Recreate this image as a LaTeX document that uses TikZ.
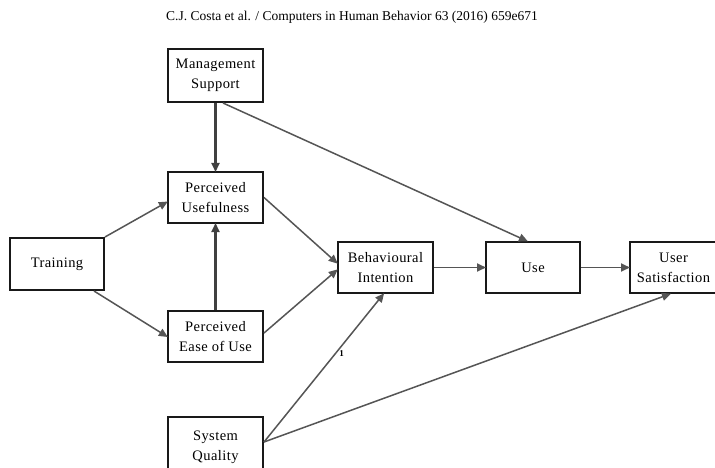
\documentclass[tikz,border=0pt]{standalone}
\usepackage{fontspec}
\setmainfont{Liberation Serif}
\newfontfamily\boxfont[LetterSpace=3]{Liberation Serif}
\usetikzlibrary{arrows.meta}
\definecolor{edgegray}{HTML}{555555}
\tikzset{
  construct/.style={draw=black!90, line width=2pt, fill=white,
    minimum width=95pt, minimum height=52pt, inner sep=2pt,
    align=center, font=\boxfont\fontsize{14.5}{20}\selectfont},
  link/.style={draw=edgegray, line width=1.5pt,
    -{Triangle[length=9pt,width=8pt]}, shorten >=-1pt},
  strong/.style={link, draw=black!75, line width=2.1pt},
  header/.style={font=\fontsize{13.5}{16}\selectfont, inner sep=0pt},
  weight/.style={font=\fontsize{9}{10}\selectfont\bfseries, inner sep=1pt}
}
\begin{document}
\begin{tikzpicture}[x=1pt,y=-1pt]
  \useasboundingbox (0,0) rectangle (715,468);
  \clip (0,0) rectangle (715,468);
  \fill[white] (0,0) rectangle (715,468);

  % running head
  \node[header] (head) at (352,17) {C.J. Costa et al. / Computers in Human Behavior 63 (2016) 659e671};

  % constructs
  \node[construct, minimum height=53pt] (ms) at (215.5,75.5) {Management\\Support};
  \node[construct, minimum height=51pt] (pu) at (215.5,197.5) {Perceived\\Usefulness};
  \node[construct, minimum width=94pt] (tr) at (57,264) {Training};
  \node[construct, minimum height=51pt] (peou) at (215.5,336.5) {Perceived\\Ease of Use};
  \node[construct, minimum height=51pt] (bi) at (385.5,267.5) {Behavioural\\Intention};
  \node[construct, minimum width=94pt, minimum height=51pt] (use) at (533,267.5) {Use};
  \node[construct, minimum width=87pt, minimum height=51pt] (us) at (673.5,267.5) {User\\Satisfaction};
  \node[construct, minimum height=61pt] (sq) at (215.5,447.5) {System\\Quality};

  % paths
  \draw[strong] (ms.south) -- (pu.north);
  \draw[link] ([xshift=7.5pt]ms.south) -- ([xshift=-6pt]use.north);
  \draw[link] (tr.north east) -- ([yshift=-4.5pt]pu.west);
  \draw[link] ([xshift=-11pt]tr.south east) -- (peou.west);
  \draw[strong] (peou.north) -- (pu.south);
  \draw[link] (pu.east) -- ([yshift=4.5pt]bi.west);
  \draw[link] ([yshift=3.5pt]peou.east) -- ([yshift=-2.5pt]bi.west);
  \draw[link] ([yshift=5.5pt]sq.east) -- ([xshift=-2pt]bi.south)
    node[weight, pos=0.6, right=2pt] (w1) {1};
  \draw[link] ([yshift=5.5pt]sq.east) -- ([xshift=-3.5pt]us.south);
  \draw[link, line width=1.7pt] (bi.east) -- (use.west);
  \draw[link, line width=1.7pt] (use.east) -- (us.west);
\end{tikzpicture}
\end{document}
